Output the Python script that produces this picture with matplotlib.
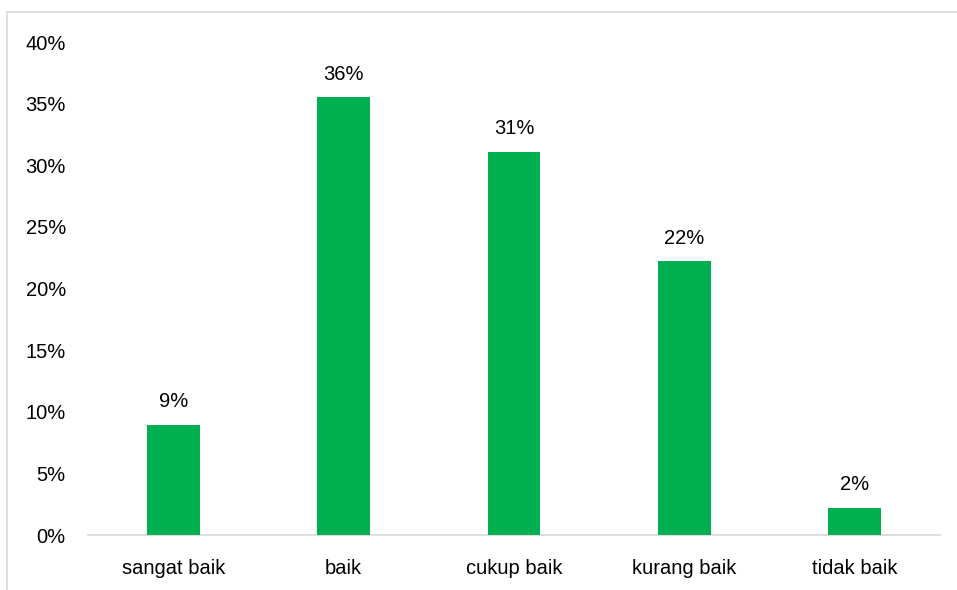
import matplotlib
matplotlib.use('Agg')
import matplotlib.pyplot as plt
import matplotlib.patches as mpatches
import numpy as np

categories = ['sangat baik', 'baik', 'cukup baik', 'kurang baik', 'tidak baik']
values     = [8.9, 35.5, 31.1, 22.2, 2.2]
labels     = ['9%', '36%', '31%', '22%', '2%']
y_ticks    = [0, 5, 10, 15, 20, 25, 30, 35, 40]

BAR_COL  = '#00B050'
LINE_COL = '#D9D9D9'
FONT     = 'Liberation Sans'
FS       = 14.5

plt.rcParams['font.family'] = FONT

fig = plt.figure(figsize=(9.57, 5.9), dpi=100)
ax = fig.add_axes([0.092, 0.0932, 0.890, 0.8356])

x = np.arange(len(categories))
ax.bar(x, values, width=0.31, color=BAR_COL, zorder=3)

for xi, v, lab in zip(x, values, labels):
    ax.annotate(lab, (xi, v), textcoords='offset points', xytext=(0, 10),
                ha='center', va='bottom', fontsize=FS, color='black')

ax.set_xlim(-0.5, len(categories) - 0.5)
ax.set_ylim(0, 40)
ax.set_yticks(y_ticks)
ax.set_yticklabels([f'{t}%' for t in y_ticks])
ax.set_xticks(x)
ax.set_xticklabels(categories)
ax.tick_params(axis='both', length=0, labelsize=FS, labelcolor='black')
ax.tick_params(axis='y', pad=16)
ax.tick_params(axis='x', pad=17)

for side in ['top', 'right', 'left']:
    ax.spines[side].set_visible(False)
ax.spines['bottom'].set_color(LINE_COL)
ax.spines['bottom'].set_linewidth(1.2)

# chart-area frame (clipped at right/bottom like the source)
frame = mpatches.Rectangle((7 / 957, -0.05), 1.2, 1.05 - 12 / 590,
                           transform=fig.transFigure, fill=False,
                           edgecolor=LINE_COL, linewidth=1.2)
fig.patches.append(frame)

plt.savefig('out.png', dpi=100, facecolor='white')
